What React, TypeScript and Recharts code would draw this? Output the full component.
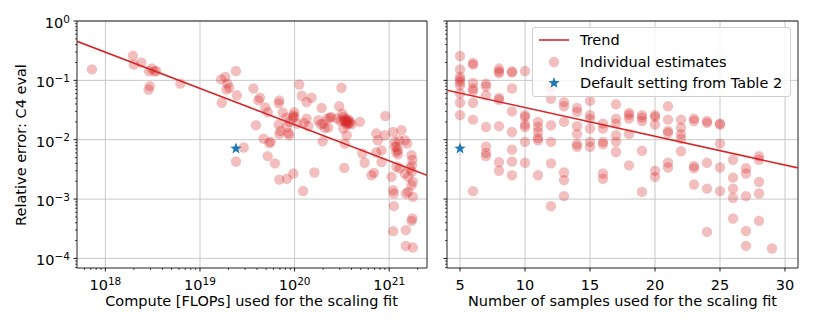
import React from "react";
import {
  ScatterChart,
  Scatter,
  XAxis,
  YAxis,
  CartesianGrid,
  ReferenceArea,
} from "recharts";

const FONT = "'DejaVu Sans', sans-serif";
const RED = "#d62728";
const BLUE = "#1f77b4";
const GRID = "#c8c8c8";

// left panel: compute used for the fit vs relative error
const computeFlops = [
  7.2e17, 1.95e18, 2.0e18, 2.4e18, 2.9e18, 3.1e18, 3.3e18, 3.45e18, 2.86e18, 2.95e18,
  6.2e18, 1.67e19, 1.85e19, 1.95e19, 1.9e19, 2.04e19, 2.4e19, 1.7e19, 2.45e19, 3.67e19,
  4.14e19, 4.3e19, 3.9e19, 4.9e19, 5.2e19, 4.7e19, 5.4e19, 5.6e19, 5.2e19, 6.2e19,
  2.9e19, 2.4e19, 6.9e19, 6.8e19, 7.5e19, 6.8e19, 6.9e19, 7.1e19, 8.2e19, 8.3e19,
  8.6e19, 8.8e19, 6.9e19, 8.3e19, 9.7e19, 1.12e20, 1.19e20, 1.34e20, 1.51e20, 9.7e19,
  1.0e20, 9.6e19, 9.9e19, 1.07e20, 1.26e20, 1.34e20, 1.4e20, 1.62e20, 1.23e20, 1.93e20,
  1.78e20, 1.88e20, 1.98e20, 2.09e20, 2.27e20, 2.36e20, 3.13e20, 2.96e20, 2.8e20, 3.06e20,
  3.27e20, 3.4e20, 3.55e20, 3.69e20, 3.84e20, 3.55e20, 3.2e20, 4.0e20, 3.27e20, 3.55e20,
  3.4e20, 3.35e20, 4.9e20, 5.2e20, 5.5e20, 6.5e20, 6.9e20, 7.3e20, 7.6e20, 7.3e20,
  8.3e20, 9.1e20, 9.0e20, 1.06e21, 1.1e21, 1.15e21, 1.1e21, 1.12e21, 1.12e21, 1.1e21,
  1.35e21, 1.27e21, 1.19e21, 1.24e21, 1.19e21, 1.29e21, 1.46e21, 1.55e21, 1.46e21, 1.59e21,
  1.72e21, 1.76e21, 1.65e21, 1.78e21, 1.72e21, 1.59e21, 1.5e21, 1.78e21, 1.76e21, 1.72e21,
  1.5e21, 1.5e21, 1.78e21, 8.8e19, 2.0e20, 2.21e20, 2.45e20, 8.3e20, 1.15e21, 1.24e21,
  1.2e21, 1.74e21, 1.74e21, 3.3e20, 3.5e20, 3.6e20, 3.7e20, 3.45e20, 3.8e20,
];
const computeErrors = [
  0.153, 0.26, 0.184, 0.2, 0.142, 0.158, 0.142, 0.144, 0.07, 0.08,
  0.088, 0.104, 0.114, 0.088, 0.07, 0.075, 0.144, 0.042, 0.056, 0.073,
  0.046, 0.051, 0.0175, 0.035, 0.029, 0.0104, 0.0088, 0.0092, 0.0053, 0.004,
  0.0074, 0.0043, 0.046, 0.041, 0.0286, 0.018, 0.0124, 0.014, 0.0236, 0.0164,
  0.013, 0.0119, 0.00213, 0.0022, 0.0027, 0.085, 0.055, 0.043, 0.051, 0.026,
  0.0242, 0.0236, 0.029, 0.0187, 0.0192, 0.0227, 0.0169, 0.0028, 0.00137, 0.0343,
  0.0213, 0.0182, 0.0094, 0.0158, 0.016, 0.0236, 0.075, 0.0366, 0.0227, 0.0207,
  0.0242, 0.021, 0.02, 0.022, 0.0192, 0.018, 0.0275, 0.0182, 0.0154, 0.0119,
  0.0086, 0.00335, 0.02, 0.00585, 0.0041, 0.00252, 0.00276, 0.0127, 0.0098, 0.0061,
  0.0042, 0.0251, 0.0119, 0.00237, 0.0135, 0.0076, 0.00141, 0.00124, 0.00076, 0.000288,
  0.0145, 0.0098, 0.0062, 0.0057, 0.0035, 0.0033, 0.0098, 0.0086, 0.0027, 0.00237,
  0.0055, 0.0046, 0.0033, 0.00195, 0.0017, 0.00132, 0.00124, 0.00109, 0.00047, 0.00043,
  0.0003, 0.000163, 0.000153, 0.02, 0.0187, 0.0227, 0.0242, 0.0066, 0.0092, 0.0067,
  0.0076, 0.0037, 0.0029, 0.021, 0.0195, 0.021, 0.0185, 0.0225, 0.0205,
];

// right panel: number of samples vs relative error
const sampleCounts = [
  5, 5, 5, 5, 5, 5, 5, 5, 5,
  6, 6, 6, 6, 6, 6, 6, 6,
  7, 7, 7, 7, 7, 7, 7,
  8, 8, 8, 8, 8, 8, 8, 8,
  9, 9, 9, 9, 9, 9, 9, 9,
  10, 10, 10, 10, 10, 10, 10,
  11, 11, 11, 11, 11, 11,
  12, 12, 12, 12, 12, 12,
  13, 13, 13, 13, 13, 13,
  14, 14, 14, 14, 14, 14,
  15, 15, 15, 15, 15, 15,
  16, 16, 16, 16, 16, 16,
  17, 17, 17, 17, 17, 17,
  18, 18, 18, 18, 18,
  19, 19, 19, 19, 19,
  20, 20, 20, 20, 20,
  21, 21, 21, 21, 21, 21,
  22, 22, 22, 22, 22,
  23, 23, 23, 23, 23,
  24, 24, 24, 24, 24,
  25, 25, 25, 25, 25,
  26, 26, 26, 26, 26,
  27, 27, 27, 27, 27,
  28, 28, 28, 28, 28,
  29,
];
const sampleErrors = [
  0.257, 0.153, 0.114, 0.104, 0.094, 0.083, 0.06, 0.042, 0.026,
  0.196, 0.184, 0.09, 0.073, 0.066, 0.042, 0.0218, 0.00136,
  0.088, 0.079, 0.056, 0.0164, 0.0076, 0.006, 0.0053,
  0.158, 0.142, 0.133, 0.0506, 0.047, 0.0169, 0.0042, 0.003,
  0.142, 0.135, 0.073, 0.03, 0.0135, 0.0068, 0.0043, 0.00252,
  0.144, 0.026, 0.0242, 0.018, 0.0164, 0.0092, 0.0041,
  0.02, 0.0164, 0.0135, 0.0107, 0.0098, 0.00252,
  0.075, 0.049, 0.0175, 0.0092, 0.004, 0.00076,
  0.043, 0.0366, 0.02, 0.0028, 0.00208, 0.00112,
  0.0343, 0.0294, 0.0169, 0.0124, 0.0084, 0.0076,
  0.045, 0.026, 0.0227, 0.0154, 0.0092, 0.0076,
  0.0187, 0.0154, 0.0092, 0.0084, 0.0027, 0.0022,
  0.0395, 0.0227, 0.0187, 0.0119, 0.0092, 0.0062,
  0.0283, 0.026, 0.0227, 0.0124, 0.0037,
  0.026, 0.0236, 0.0207, 0.0065, 0.00132,
  0.026, 0.0242, 0.018, 0.003, 0.00237,
  0.0366, 0.0218, 0.0141, 0.013, 0.0041, 0.0034,
  0.0218, 0.016, 0.0124, 0.0104, 0.0064,
  0.0227, 0.0207, 0.0036, 0.0033, 0.00176,
  0.0207, 0.0192, 0.0041, 0.0015, 0.00028,
  0.0187, 0.018, 0.0086, 0.0034, 0.00136,
  0.0046, 0.0023, 0.0015, 0.00105, 0.00047,
  0.0033, 0.0027, 0.00112, 0.00029, 0.000163,
  0.0053, 0.0046, 0.00195, 0.00124, 0.00043,
  0.000147,
];

// fitted trend lines (end points at the axis limits)
const trendComputeX = [5.01e17, 2.51e21];
const trendComputeY = [0.455, 0.00252];
const trendSamplesX = [4, 31];
const trendSamplesY = [0.068, 0.00335];

// default setting from Table 2
const defaultCompute = 2.4e19;
const defaultSamples = 5;
const defaultError = 0.0071;

const errorTicks = [1e-4, 1e-3, 1e-2, 1e-1, 1];
const computeTicks = [1e18, 1e19, 1e20, 1e21];
const sampleTicks = [5, 10, 15, 20, 25, 30];

const errorDomain = [6.9e-5, 1];
const computeDomain = [5.01e17, 2.51e21];
const sampleDomain = [4, 31];

const legendLabels = ["Trend", "Individual estimates", "Default setting from Table 2"];

function withMinor(lo: number, hi: number, dMin: number, dMax: number) {
  const out: number[] = [];
  for (let e = lo; e <= hi; e++) {
    for (let m = 1; m <= 9; m++) {
      const v = m * Math.pow(10, e);
      if (v >= dMin && v <= dMax) out.push(v);
    }
  }
  return out;
}

const errorAllTicks = withMinor(-5, 0, errorDomain[0], errorDomain[1]);
const computeAllTicks = withMinor(17, 21, computeDomain[0], computeDomain[1]);

const zip = (xs: number[], ys: number[]) => xs.map((x, i) => ({ x, y: ys[i] }));

const computeData = zip(computeFlops, computeErrors);
const sampleData = zip(sampleCounts, sampleErrors);
const trendComputeData = zip(trendComputeX, trendComputeY);
const trendSamplesData = zip(trendSamplesX, trendSamplesY);

const isMajor = (v: number) => {
  const l = Math.log10(v);
  return Math.abs(l - Math.round(l)) < 1e-6;
};

const expLabel = (v: number) => {
  const e = Math.round(Math.log10(v));
  return e < 0 ? "\u2212" + Math.abs(e) : String(e);
};

function LogYTick(props: any) {
  const { x, y, payload, showLabel } = props;
  const major = isMajor(payload.value);
  return (
    <g>
      <line x1={x} x2={x - (major ? 3.5 : 2)} y1={y} y2={y} stroke="#000" strokeWidth={major ? 0.9 : 0.7} />
      {major && showLabel && (
        <text x={x - 7} y={y + 7} textAnchor="end" fontSize={14.5} fontFamily={FONT} fill="#000">
          10
          <tspan dy={-5.5} fontSize={10.5}>
            {expLabel(payload.value)}
          </tspan>
        </text>
      )}
    </g>
  );
}

function LogXTick(props: any) {
  const { x, y, payload } = props;
  const major = isMajor(payload.value);
  return (
    <g>
      <line x1={x} x2={x} y1={y} y2={y + (major ? 3.5 : 2)} stroke="#000" strokeWidth={major ? 0.9 : 0.7} />
      {major && (
        <text x={x} y={y + 22} textAnchor="middle" fontSize={14.5} fontFamily={FONT} fill="#000">
          10
          <tspan dy={-5.5} fontSize={10.5}>
            {expLabel(payload.value)}
          </tspan>
        </text>
      )}
    </g>
  );
}

function LinXTick(props: any) {
  const { x, y, payload } = props;
  return (
    <g>
      <line x1={x} x2={x} y1={y} y2={y + 3.5} stroke="#000" strokeWidth={0.9} />
      <text x={x} y={y + 22} textAnchor="middle" fontSize={14.5} fontFamily={FONT} fill="#000">
        {payload.value}
      </text>
    </g>
  );
}

const dot = (p: any) => <circle cx={p.cx} cy={p.cy} r={5.2} fill={RED} fillOpacity={0.3} />;

function starPath(cx: number, cy: number, R: number, r: number) {
  let d = "";
  for (let i = 0; i < 10; i++) {
    const rad = i % 2 === 0 ? R : r;
    const a = (Math.PI / 5) * i - Math.PI / 2;
    d += (i === 0 ? "M" : "L") + (cx + rad * Math.cos(a)).toFixed(2) + "," + (cy + rad * Math.sin(a)).toFixed(2);
  }
  return d + "Z";
}

const star = (p: any) => <path d={starPath(p.cx, p.cy, 6, 2.5)} fill={BLUE} />;
const noMark = () => <g />;

const labelStyle: React.CSSProperties = {
  position: "absolute",
  fontFamily: FONT,
  fontSize: 14.5,
  lineHeight: "14.5px",
  whiteSpace: "nowrap",
  color: "#000",
};

export default function App() {
  return (
    <div style={{ position: "absolute", left: 0, top: 0, width: 814, height: 326, background: "#fff" }}>
      {/* left panel */}
      <div style={{ position: "absolute", left: 0, top: 0 }}>
        <ScatterChart width={440} height={326} margin={{ top: 21, right: 13, bottom: 0, left: 0 }}>
          <CartesianGrid stroke={GRID} horizontalValues={errorTicks} verticalValues={computeTicks} />
          <XAxis
            type="number"
            dataKey="x"
            scale="log"
            domain={computeDomain}
            allowDataOverflow
            ticks={computeAllTicks}
            interval={0}
            height={58}
            tickSize={0}
            tickMargin={0}
            axisLine={false}
            tick={<LogXTick />}
          />
          <YAxis
            type="number"
            dataKey="y"
            scale="log"
            domain={errorDomain}
            allowDataOverflow
            ticks={errorAllTicks}
            interval={0}
            width={77}
            tickSize={0}
            tickMargin={0}
            axisLine={false}
            tick={<LogYTick showLabel />}
          />
          <Scatter data={computeData} shape={dot} isAnimationActive={false} />
          <Scatter
            data={trendComputeData}
            line={{ stroke: RED, strokeWidth: 1.6 }}
            shape={noMark}
            isAnimationActive={false}
          />
          <Scatter data={[{ x: defaultCompute, y: defaultError }]} shape={star} isAnimationActive={false} />
          <ReferenceArea
            x1={computeDomain[0]}
            x2={computeDomain[1]}
            y1={errorDomain[0]}
            y2={errorDomain[1]}
            fill="none"
            stroke="#222"
            strokeWidth={1}
            ifOverflow="visible"
          />
        </ScatterChart>
      </div>

      {/* right panel */}
      <div style={{ position: "absolute", left: 440, top: 0 }}>
        <ScatterChart width={374} height={326} margin={{ top: 21, right: 16, bottom: 0, left: 0 }}>
          <CartesianGrid stroke={GRID} horizontalValues={errorTicks} verticalValues={sampleTicks} />
          <XAxis
            type="number"
            dataKey="x"
            domain={sampleDomain}
            allowDataOverflow
            ticks={sampleTicks}
            interval={0}
            height={58}
            tickSize={0}
            tickMargin={0}
            axisLine={false}
            tick={<LinXTick />}
          />
          <YAxis
            type="number"
            dataKey="y"
            scale="log"
            domain={errorDomain}
            allowDataOverflow
            ticks={errorAllTicks}
            interval={0}
            width={7}
            tickSize={0}
            tickMargin={0}
            axisLine={false}
            tick={<LogYTick showLabel={false} />}
          />
          <Scatter data={sampleData} shape={dot} isAnimationActive={false} />
          <Scatter
            data={trendSamplesData}
            line={{ stroke: RED, strokeWidth: 1.6 }}
            shape={noMark}
            isAnimationActive={false}
          />
          <Scatter data={[{ x: defaultSamples, y: defaultError }]} shape={star} isAnimationActive={false} />
          <ReferenceArea
            x1={sampleDomain[0]}
            x2={sampleDomain[1]}
            y1={errorDomain[0]}
            y2={errorDomain[1]}
            fill="none"
            stroke="#222"
            strokeWidth={1}
            ifOverflow="visible"
          />
        </ScatterChart>
      </div>

      {/* legend */}
      <div
        style={{
          position: "absolute",
          left: 532,
          top: 27,
          width: 257,
          height: 68,
          border: "1px solid #d0d0d0",
          borderRadius: 3,
          background: "rgba(255,255,255,0.8)",
        }}
      >
        {legendLabels.map((label, i) => (
          <div key={label} style={{ position: "absolute", left: 0, top: 5 + i * 21.7, height: 20, width: 257 }}>
            <svg width={44} height={20} style={{ position: "absolute", left: 0, top: 0 }}>
              {i === 0 && <line x1={6} x2={36} y1={7} y2={7} stroke={RED} strokeWidth={1.6} />}
              {i === 1 && <circle cx={21} cy={7} r={5.2} fill={RED} fillOpacity={0.3} />}
              {i === 2 && <path d={starPath(21, 7, 6, 2.5)} fill={BLUE} />}
            </svg>
            <div style={{ ...labelStyle, left: 47, top: 0 }}>{label}</div>
          </div>
        ))}
      </div>

      {/* axis titles */}
      <div style={{ ...labelStyle, left: 20.5, top: 145, transform: "translate(-50%, -50%) rotate(-90deg)" }}>
        Relative error: C4 eval
      </div>
      <div style={{ ...labelStyle, left: 251.5, top: 294, transform: "translateX(-50%)" }}>
        Compute [FLOPs] used for the scaling fit
      </div>
      <div style={{ ...labelStyle, left: 622.5, top: 294, transform: "translateX(-50%)" }}>
        Number of samples used for the scaling fit
      </div>
    </div>
  );
}
